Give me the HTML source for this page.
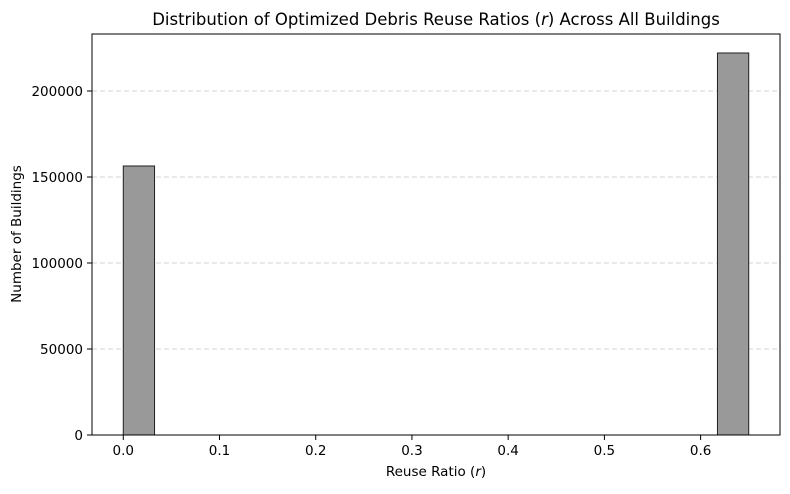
<!DOCTYPE html>
<html><head><meta charset="utf-8"><style>
body{margin:0;background:#fff;font-family:"DejaVu Sans","Liberation Sans",sans-serif}
</style></head><body>
<svg id="chart" width="790" height="490" xmlns="http://www.w3.org/2000/svg" font-family="DejaVu Sans, Liberation Sans, sans-serif">
<text x="436" y="25" text-anchor="middle" font-size="16.5" fill="#000">Distribution of Optimized Debris Reuse Ratios (<tspan font-style="italic">r</tspan>) Across All Buildings</text>
<g id="grid"></g><g id="bars"></g><g id="axes"></g>
<text x="436" y="476" text-anchor="middle" font-size="13.5">Reuse Ratio (<tspan font-style="italic">r</tspan>)</text>
<text transform="translate(21,234) rotate(-90)" text-anchor="middle" font-size="13.5">Number of Buildings</text>
</svg>
<script>
const binStarts=[0,0.6175];
const binWidth=0.0325;
const counts=[156400,222100];
const xTicks=[0.0,0.1,0.2,0.3,0.4,0.5,0.6];
const yTicks=[0,50000,100000,150000,200000];
const L=92,R=780,T=34,B=435,xmin=-0.0325,xmax=0.6825,ymax=233140;
const sx=v=>L+(v-xmin)/(xmax-xmin)*(R-L);
const sy=v=>B-v/ymax*(B-T);
const NS="http://www.w3.org/2000/svg";
function mk(tag,attrs,parent,txt){const e=document.createElementNS(NS,tag);for(const k in attrs)e.setAttribute(k,attrs[k]);if(txt!==undefined)e.textContent=txt;document.getElementById(parent).appendChild(e);return e;}
yTicks.forEach(v=>{if(v>0){const g=mk('line',{x1:L,x2:R,y1:sy(v),y2:sy(v),stroke:'#c8c8c8','stroke-dasharray':'5,3','stroke-width':0.8},'grid');

}});
binStarts.forEach((s,i)=>{const r=mk('rect',{x:sx(s),y:sy(counts[i]),width:sx(s+binWidth)-sx(s),height:B-sy(counts[i]),fill:'#999','stroke':'#222','stroke-width':1},'bars');

});
const f=mk('rect',{x:L,y:T,width:R-L,height:B-T,fill:'none',stroke:'#000','stroke-width':1},'axes');


xTicks.forEach(v=>{mk('line',{x1:sx(v),x2:sx(v),y1:B,y2:B+5,stroke:'#000'},'axes');
const t=mk('text',{x:sx(v),y:B+20,'text-anchor':'middle','font-size':13.5},'axes',v.toFixed(1));

});
yTicks.forEach(v=>{mk('line',{x1:L-5,x2:L,y1:sy(v),y2:sy(v),stroke:'#000'},'axes');
const t=mk('text',{x:L-9,y:sy(v)+5,'text-anchor':'end','font-size':13.5},'axes',String(v));

});
</script>
</body></html>
